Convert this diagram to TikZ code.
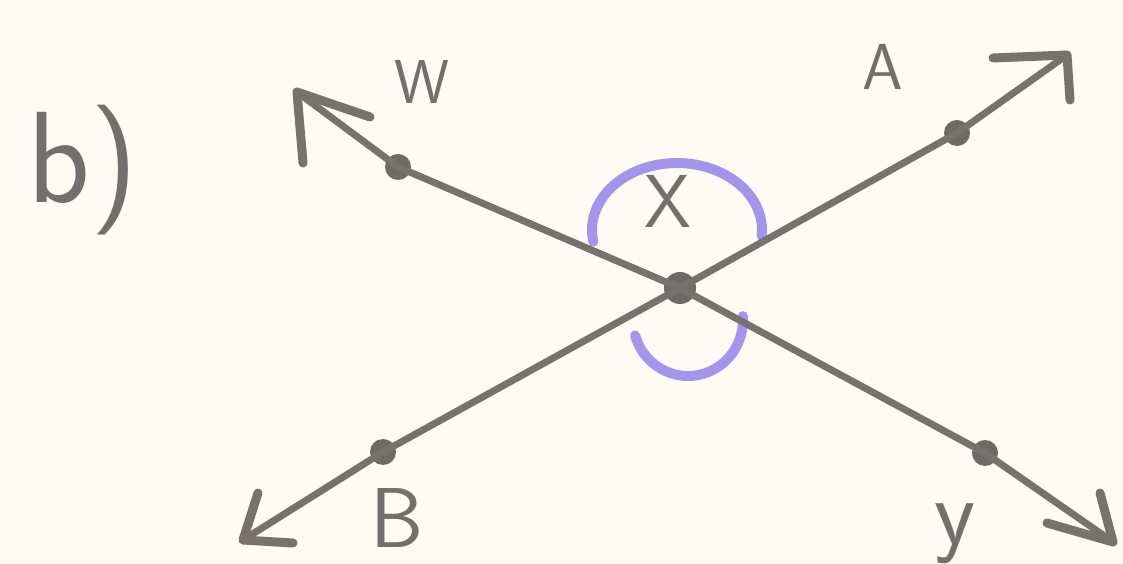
\documentclass[tikz,border=0pt]{standalone}
\usepackage{fontspec}
\begin{document}
\begin{tikzpicture}[x=1pt,y=1pt,
  ink/.style={draw=inkc, line width=7pt, line cap=round, line join=round},
  arm/.style={draw=inkc, line width=9pt, line cap=round, line join=round},
  pt/.style={circle, fill=dotc, inner sep=0pt, minimum size=26pt},
  bigpt/.style={circle, fill=dotc, inner sep=0pt, minimum size=32pt},
  lab/.style={text=labc, font=\sffamily, inner sep=0pt},
  anglemark/.style={draw=purp, line width=10pt, line cap=round}]
\definecolor{bg}{HTML}{FDFBF3}
\definecolor{inkc}{HTML}{77726E}
\definecolor{dotc}{HTML}{6E6A67}
\definecolor{labc}{HTML}{72706E}
\definecolor{purp}{HTML}{A395EC}
\fill[bg] (0,0) rectangle (1123,564);
\useasboundingbox (0,0) rectangle (1123,564);
% tips
\coordinate (WT) at (297,472);
\coordinate (YT) at (1113,22);
\coordinate (BT) at (243,24);
\coordinate (AT) at (1067,509);
% points
\node[pt] (W) at (398,397) {};
\node[pt] (Y) at (985,111) {};
\node[pt] (B) at (383,112) {};
\node[pt] (A) at (957,431) {};
\node[bigpt] (X) at (680,276) {};
% purple angle marks
\draw[anglemark] (677,334)++(190:85 and 67) arc[start angle=190, end angle=-5, x radius=85, y radius=67];
\draw[anglemark] (688,244)++(196:55 and 56) arc[start angle=196, end angle=364, x radius=55, y radius=56];
% lines
\draw[ink] (WT) -- (W.center) -- (X.center) -- (Y.center) -- (YT);
\draw[ink] (BT) -- (B.center) -- (X.center) -- (A.center) -- (AT);
% arrowheads
\draw[arm] (370,447) -- (WT) -- (303,401);
\draw[arm] (993,506) -- (AT) -- (1070,464);
\draw[arm] (258,71) -- (BT) -- (293,21);
\draw[arm] (1100,71) -- (YT) -- (1047,41);
% labels
\node[lab, font=\sffamily\fontsize{62}{66}\selectfont] (lW) at (422,482) {W};
\node[lab, font=\sffamily\fontsize{65}{70}\selectfont] (lA) at (883,497) {A};
\node[lab, font=\sffamily\fontsize{85}{90}\selectfont] (lB) at (397,46) {B};
\node[lab, font=\sffamily\fontsize{95}{100}\selectfont] (lY) at (955,30) {y};
\node[lab, font=\sffamily\fontsize{75}{80}\selectfont] (lX) at (668,363) {X};
\node[lab, font=\sffamily\fontsize{130}{135}\selectfont] (lb) at (83,394) {b)};
\end{tikzpicture}
\end{document}
